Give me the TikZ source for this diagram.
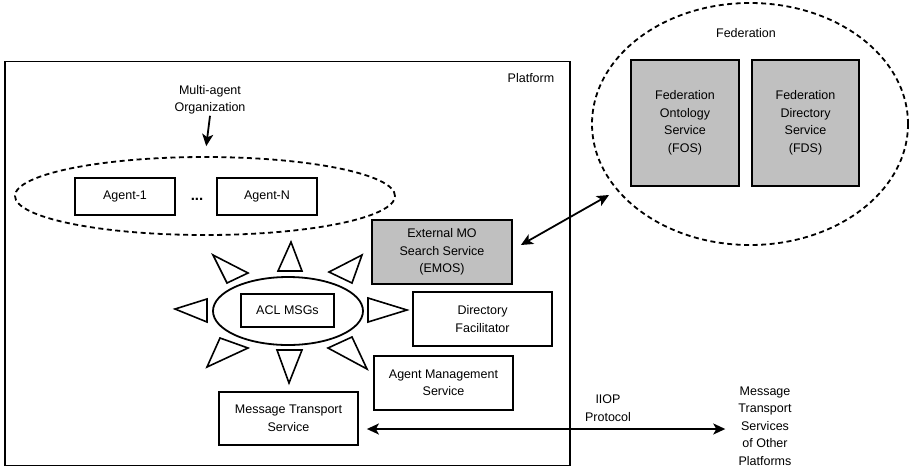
\documentclass[tikz,border=0pt]{standalone}
\usepackage{fontspec}
\setmainfont{Liberation Sans}
\usetikzlibrary{shapes.geometric,arrows.meta,calc}
\definecolor{svcgray}{HTML}{C0C0C0}

\begin{document}
\begin{tikzpicture}[x=1pt,y=-1pt,
  every node/.style={font=\fontsize{12.5}{17.5}\selectfont, align=center, inner sep=1pt},
  box/.style={draw, line width=1.8pt, fill=white, inner sep=0pt},
  graybox/.style={box, fill=svcgray},
  dashring/.style={draw, ellipse, line width=1.8pt, dash pattern=on 5pt off 3.5pt, inner sep=0pt},
  ring/.style={draw, ellipse, line width=1.8pt, inner sep=0pt},
  ray/.style={draw, fill=white, line width=1.6pt, line join=miter},
  link/.style={line width=1.8pt, -{Stealth[length=12pt,width=11pt,inset=3pt]}},
  dbl/.style={line width=1.8pt, {Stealth[length=12pt,width=11pt,inset=3pt]}-{Stealth[length=12pt,width=11pt,inset=3pt]}},
]
\useasboundingbox (0,0) rectangle (910,467);

% platform frame
\node[draw, line width=1.8pt, minimum width=565pt, minimum height=404pt, inner sep=0pt] (platform) at (287.5,263.5) {};
\node (platlabel) at (531,78) {Platform};

% multi-agent organization
\node (maolabel) at (210,100) {Multi-agent\\Organization};
\node[dashring, minimum width=380pt, minimum height=78pt] (mao) at (205,196) {};
\node[box, minimum width=100pt, minimum height=37pt] (agent1) at (125,196.5) {Agent-1};
\node[box, minimum width=100pt, minimum height=37pt] (agentN) at (267,196.5) {Agent-N};
\node[font=\fontsize{15}{18}\selectfont\bfseries] (dots) at (197,199) {...};
\draw[link, shorten >=10pt] (maolabel.south) -- (mao.north);

% rays around the message ring
\draw[ray] (291,242) -- (278,271) -- (302,271) -- cycle;
\draw[ray] (289,383) -- (277,350) -- (302,350) -- cycle;
\draw[ray] (175,309) -- (207,299) -- (207,322) -- cycle;
\draw[ray] (407,310) -- (368,298) -- (368,322) -- cycle;
\draw[ray] (213,255) -- (227,283) -- (248,273) -- cycle;
\draw[ray] (362,255) -- (329,272) -- (352,283) -- cycle;
\draw[ray] (207,367) -- (220,338) -- (248,348) -- cycle;
\draw[ray] (367,369) -- (352,337) -- (328,348) -- cycle;

% message ring
\node[ring, minimum width=150pt, minimum height=68pt] (aclring) at (288,311) {};
\node[box, minimum width=93pt, minimum height=33pt] (acl) at (287.5,310.5) {ACL MSGs};

% platform services
\node[graybox, minimum width=140pt, minimum height=64pt] (emos) at (442,252) {External MO\\Search Service\\(EMOS)};
\node[box, minimum width=139pt, minimum height=54pt] (dirf) at (482.5,319) {Directory\\Facilitator};
\node[box, minimum width=139pt, minimum height=54pt] (ams) at (443.5,383) {Agent Management\\Service};
\node[box, minimum width=139pt, minimum height=53pt] (mts) at (288.5,418.5) {Message Transport\\Service};

% federation
\node[dashring, minimum width=316pt, minimum height=242pt] (fed) at (750,124) {};
\node (fedlabel) at (746,33) {Federation};
\node[graybox, minimum width=108pt, minimum height=126pt] (fos) at (685,123) {Federation\\Ontology\\Service\\(FOS)};
\node[graybox, minimum width=107pt, minimum height=126pt] (fds) at (805.5,123) {Federation\\Directory\\Service\\(FDS)};

\draw[dbl] ($(emos.east)+(8,-7)$) -- ($(fed.center)+(-141,71)$);

% transport to other platforms
\node (iiop) at (608,408) {IIOP\\Protocol};
\node[inner sep=0pt] (other) at (765,426) {Message\\Transport\\Services\\of Other\\Platforms};
\coordinate (mtsgate) at ($(mts.east)+(8,10.5)$);
\coordinate (othergate) at ($(other.west)+(-13,0)$);
\draw[dbl] (mtsgate) -- (mtsgate -| othergate);
\end{tikzpicture}
\end{document}
